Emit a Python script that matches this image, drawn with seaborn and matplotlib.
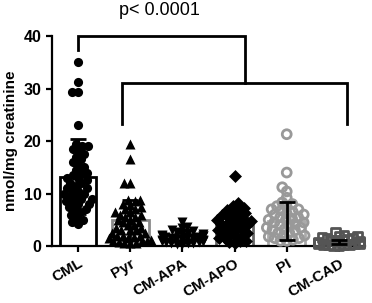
import numpy as np
import pandas as pd
import matplotlib
matplotlib.use("Agg")
import matplotlib.pyplot as plt
import seaborn as sns

GROUPS = ["CML", "Pyr", "CM-APA", "CM-APO", "PI", "CM-CAD"]
MEANS = [13.2, 5.0, 1.5, 4.5, 4.7, 0.7]
SDS = [7.1, 3.8, 1.0, 2.6, 3.6, 0.4]

CML = [35, 31.3, 29.4, 29.3, 23, 19.5, 19, 19, 18.5, 18, 17.5, 17, 16.5, 16,
       15.5, 15, 14.5, 14, 14, 13.5, 13, 13, 12.5, 12, 12, 11.5, 11, 11, 10.5,
       10.5, 10, 10, 9.5, 9.5, 9, 9, 8.5, 8.5, 8, 8, 7.5, 7, 7, 6.5, 6, 5.5,
       5, 4.5, 4.2]
PYR = [19.4, 16.5, 12.1, 12.1, 8.8, 8.8, 8.5, 8, 7.8, 7.5, 7, 7, 6.5, 6.5, 6,
       6, 5.5, 5.5, 5, 5, 4.5, 4.5, 4, 4, 3.5, 3.5, 3, 3, 3, 2.5, 2.5, 2, 2, 2,
       1.8, 1.5, 1.5, 1.2, 1, 1, 1, 0.8, 0.6, 0.5, 0.5]
CM_APA = [4.5, 3.6, 3.4, 3.0, 2.8, 2.6, 2.5, 2.4, 2.2, 2.1, 2.0, 2.0, 1.9,
          1.8, 1.7, 1.6, 1.5, 1.5, 1.4, 1.3, 1.2, 1.1, 1.0, 1.0, 0.9, 0.8,
          0.7, 0.6, 0.5, 0.5, 0.4, 0.3]
CM_APO = [13.3, 8.2, 7.6, 7.2, 7, 6.8, 6.5, 6.2, 6, 6, 5.5, 5.5, 5, 5, 4.8,
          4.5, 4.5, 4.2, 4, 4, 3.5, 3.5, 3.2, 3, 3, 2.5, 2.5, 2.2, 2, 2, 1.5,
          1.5, 1, 1, 0.8, 0.5]
PI = [21.3, 14, 11.2, 10.4, 9.2, 8.3, 8, 7.6, 7.5, 7, 7, 6.8, 6.5, 6.2, 6,
      6, 5.5, 5.5, 5.2, 5, 5, 4.5, 4.5, 4.2, 4, 4, 3.5, 3.5, 3.2, 3, 3, 2.5,
      2.5, 2, 2, 1.8, 1.5, 1.5, 1.2, 1, 1]
CM_CAD = [2.6, 2.0, 1.9, 1.8, 1.6, 1.5, 1.4, 1.2, 1.1, 1.0, 1.0, 0.9, 0.8,
          0.7, 0.6, 0.5, 0.5, 0.4, 0.3, 0.3, 0.2, 0.2, 0.1, 0.1]

POINTS = [CML, PYR, CM_APA, CM_APO, PI, CM_CAD]
BAR_EDGE = ["black", "#8a8a8a", "#cccccc", "#666666", "#aaaaaa", "#555555"]
BAR_FACE = ["white", "white", "white", "white", "white", "#555555"]
MARKERS = ["o", "^", "v", "D", "o", "s"]
# marker size used for the swarm layout, and the (bigger) size drawn
LAYOUT_SIZE = [4.3, 4.0, 3.8, 4.0, 4.3, 3.6]
DRAW_SIZE = [6.6, 7.2, 7.2, 6.6, 6.4, 6.2]

plt.rcParams["font.family"] = ["Liberation Sans", "DejaVu Sans"]

fig = plt.figure(figsize=(3.72, 3.03), dpi=100)
ax = fig.add_axes([0.14, 0.188, 0.841, 0.693])

sns.barplot(x=GROUPS, y=MEANS, order=GROUPS, errorbar=None, width=0.7,
            color="white", ax=ax, zorder=1)
for p, ec, fc in zip(ax.patches, BAR_EDGE, BAR_FACE):
    p.set_edgecolor(ec)
    p.set_facecolor(fc)
    p.set_linewidth(2)

swarms = []
for i, (g, vals) in enumerate(zip(GROUPS, POINTS)):
    df = pd.DataFrame({"group": g, "value": vals})
    n_before = len(ax.collections)
    if g == "PI":
        sns.swarmplot(data=df, x="group", y="value", order=GROUPS, ax=ax,
                      marker="o", size=LAYOUT_SIZE[i], facecolors="none",
                      edgecolor="#999999", linewidth=0, zorder=3)
    elif g == "CM-CAD":
        sns.swarmplot(data=df, x="group", y="value", order=GROUPS, ax=ax,
                      marker="s", size=LAYOUT_SIZE[i], facecolors="none",
                      edgecolor="#555555", linewidth=0, zorder=3)
    else:
        sns.swarmplot(data=df, x="group", y="value", order=GROUPS, ax=ax,
                      marker=MARKERS[i], size=LAYOUT_SIZE[i],
                      color="black", linewidth=0, zorder=3)
    swarms.append((i, ax.collections[n_before:]))

ax.errorbar(np.arange(len(GROUPS)), MEANS, yerr=SDS, fmt="none",
            ecolor="black", elinewidth=2, capsize=6, capthick=2, zorder=4)

ax.set_xlim(-0.5, 5.5)
ax.set_ylim(0, 40)
ax.set_yticks([0, 10, 20, 30, 40])
ax.set_xlabel("")
ax.set_ylabel("nmol/mg creatinine", fontsize=11, fontweight="bold")
sns.despine(ax=ax)
for s in ["left", "bottom"]:
    ax.spines[s].set_linewidth(1.6)
ax.tick_params(width=1.6, length=4)
for lab in ax.get_yticklabels():
    lab.set_fontweight("bold")
    lab.set_fontsize(11.5)
ax.set_xticks(range(len(GROUPS)))
ax.set_xticklabels(GROUPS, rotation=30, ha="right", rotation_mode="anchor",
                   fontsize=11, fontweight="bold")

# significance bracket
lw = 2
ax.plot([0, 0, 3.2, 3.2], [37.4, 40, 40, 31], color="black", lw=lw,
        clip_on=False, solid_joinstyle="miter")
ax.plot([0.85, 0.85, 5.15, 5.15], [23.2, 31, 31, 23.2], color="black", lw=lw,
        clip_on=False, solid_joinstyle="miter")
ax.text(1.55, 44.8, "p< 0.0001", ha="center", va="center", fontsize=13)

# lay the swarms out with the small markers, then freeze and enlarge them
fig.canvas.draw()
for i, cols in swarms:
    for c in cols:
        if "draw" in c.__dict__:
            del c.draw
        if len(c.get_offsets()) == 0:
            continue
        c.set_sizes([DRAW_SIZE[i] ** 2])
        c.set_clip_on(False)
        if GROUPS[i] in ("PI", "CM-CAD"):
            c.set_linewidth(2.0)

fig.savefig("out.png", dpi=100)
